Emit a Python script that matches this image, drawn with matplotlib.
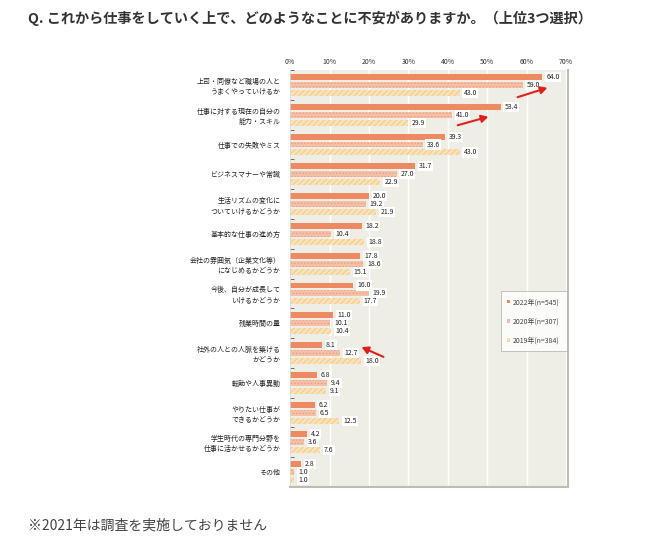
import matplotlib
matplotlib.use('Agg')
import matplotlib.pyplot as plt
import numpy as np

plt.rcParams['font.family'] = ['Noto Sans CJK JP', 'DejaVu Sans']
plt.rcParams['hatch.linewidth'] = 0.6

# data
categories = [
    '上司・同僚など職場の人と\nうまくやっていけるか',
    '仕事に対する現在の自分の\n能力・スキル',
    '仕事での失敗やミス',
    'ビジネスマナーや常識',
    '生活リズムの変化に\nついていけるかどうか',
    '基本的な仕事の進め方',
    '会社の雰囲気（企業文化等）\nになじめるかどうか',
    '今後、自分が成長して\nいけるかどうか',
    '残業時間の量',
    '社外の人との人脈を築ける\nかどうか',
    '転勤や人事異動',
    'やりたい仕事が\nできるかどうか',
    '学生時代の専門分野を\n仕事に活かせるかどうか',
    'その他',
]
v2022 = [64.0, 53.4, 39.3, 31.7, 20.0, 18.2, 17.8, 16.0, 11.0, 8.1, 6.8, 6.2, 4.2, 2.8]
v2020 = [59.0, 41.0, 33.6, 27.0, 19.2, 10.4, 18.6, 19.9, 10.1, 12.7, 9.4, 6.5, 3.6, 1.0]
v2019 = [43.0, 29.9, 43.0, 22.9, 21.9, 18.8, 15.1, 17.7, 10.4, 18.0, 9.1, 12.5, 7.6, 1.0]
series_labels = ['2022年(n=545)', '2020年(n=307)', '2019年(n=384)']
xticks = [0, 10, 20, 30, 40, 50, 60, 70]

fig = plt.figure(figsize=(6.55, 5.43), dpi=100)
ax = fig.add_axes([0.443, 0.103, 0.424, 0.768])
ax.set_facecolor('#efeee6')

y = np.arange(len(categories))
off = 0.267
h = 0.2
b1 = ax.barh(y - off, v2022, height=h, color='#ee8a62', linewidth=0, label=series_labels[0])
b2 = ax.barh(y, v2020, height=h, facecolor='#f5c0a8', edgecolor='#ec9f80', hatch='.....',
             linewidth=0, label=series_labels[1])
b3 = ax.barh(y + off, v2019, height=h, facecolor='#fae2b8', edgecolor='#f0c483', hatch='//////',
             linewidth=0, label=series_labels[2])

for bars, vals in [(b1, v2022), (b2, v2020), (b3, v2019)]:
    for bar, v in zip(bars, vals):
        ax.text(v + 1.0, bar.get_y() + bar.get_height() / 2, f'{v:.1f}', fontsize=5,
                va='center', ha='left', color='#222222',
                bbox=dict(boxstyle='square,pad=0.15', fc='white', ec='none'))

ax.set_xlim(0, 70.5)
ax.set_ylim(len(categories) - 0.5, -0.5)
ax.set_xticks(xticks)
ax.set_xticklabels([f'{t}%' for t in xticks], fontsize=5, color='#333333')
ax.xaxis.tick_top()
ax.tick_params(axis='x', length=0, pad=3)
ax.grid(axis='x', color='white', linewidth=1.0)
ax.set_axisbelow(True)

ax.set_yticks(y)
ax.set_yticklabels(categories, fontsize=5, color='#222222', linespacing=1.3)
ax.tick_params(axis='y', length=0, pad=7)
ax.set_yticks(np.arange(len(categories) + 1) - 0.5, minor=True)
ax.tick_params(axis='y', which='minor', length=3, direction='in', width=0.6, color='#555555')

ax.spines['top'].set_visible(False)
ax.spines['left'].set_color('#d8d8d0')
ax.spines['left'].set_linewidth(0.6)
ax.spines['right'].set_color('#bdbdb5')
ax.spines['right'].set_linewidth(1.5)
ax.spines['bottom'].set_color('#bdbdb5')
ax.spines['bottom'].set_linewidth(1.5)

leg = ax.legend(loc='upper left', bbox_to_anchor=(0.745, 0.478), fontsize=5,
                frameon=True, fancybox=False, edgecolor='#aaaaaa', handlelength=0.4,
                handleheight=0.4, labelspacing=1.6, borderpad=1.0, handletextpad=0.4,
                labelcolor='#444444')
leg.get_frame().set_linewidth(0.6)

fig.text(0.043, 0.967, 'Q. これから仕事をしていく上で、どのようなことに不安がありますか。（上位3つ選択）',
         fontsize=10.2, fontweight='bold', color='#333333', va='center', ha='left')
fig.text(0.043, 0.033, '※2021年は調査を実施しておりません', fontsize=10, color='#444444',
         va='center', ha='left')

# red arrows drawn on the picture
arrows = [((515, 98), (550, 87)), ((455, 126), (491, 116)), ((386, 358), (359, 346))]
for (x0, y0), (x1, y1) in arrows:
    fig.patches.append(matplotlib.patches.FancyArrowPatch(
        (x0 / 655, 1 - y0 / 543), (x1 / 655, 1 - y1 / 543), transform=fig.transFigure,
        arrowstyle='-|>,head_length=4,head_width=2.2', color='#e0201c', linewidth=1.5))

fig.savefig('out.png', dpi=100)
